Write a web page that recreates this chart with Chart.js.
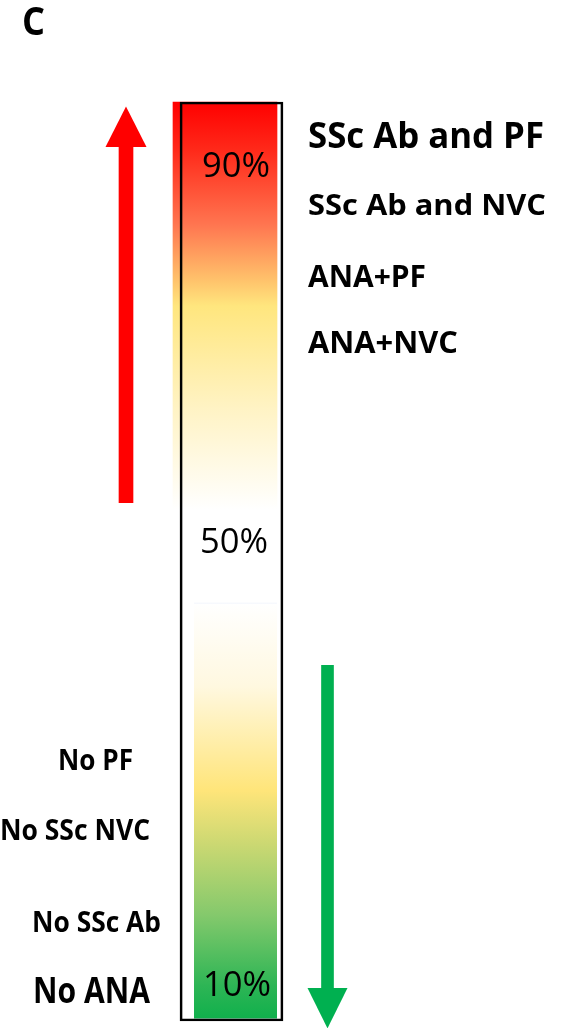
<!DOCTYPE html>
<html>
<head>
<meta charset="utf-8">
<script src="https://cdn.jsdelivr.net/npm/chart.js@4.4.1/dist/chart.umd.min.js"></script>
<style>
  html, body { margin: 0; padding: 0; background: #fff; }
  #wrap { width: 565px; height: 1028px; }
</style>
</head>
<body>
<div id="wrap"><canvas id="risk-bar" width="565" height="1028"></canvas></div>
<script>
// ------------------------------------------------------------
// Risk scale (vertical): 0 = bottom of the bar, 100 = top
// Column positions (horizontal) on a 0..565 layout axis
// ------------------------------------------------------------
const columnNames = ['frame', 'upper', 'lower', 'rise', 'fall'];
const columnX     = [231.5, 225, 235.5, 126, 327.5];
const columnRange = [[0, 100], [55.6, 100], [0.2, 45.5], [56.4, 96], [2.8, 38.7]];

// arrow heads: x, tip, base (risk units)
const headX    = [126, 327.5];
const headTip  = [99.5, -0.8];
const headBase = [95.1, 3.6];

// labels
const riskLabels   = ['90%', '50%', '10%'];
const riskLabelAt  = [91.8, 50.9, 2.7];
const highLabels   = ['SSc Ab and PF', 'SSc Ab and NVC', 'ANA+PF', 'ANA+NVC'];
const highLabelAt  = [95.0, 87.7, 79.9, 72.7];
const lowLabels    = ['No PF', 'No SSc NVC', 'No SSc Ab', 'No ANA'];
const lowLabelAt   = [27.3, 19.7, 9.7, 2.0];
const panelLetter  = 'C';
const panelAt      = 107.3;

// colour stops
const upperStops = [[0, '#ff0000'], [0.12, '#ff2a1a'], [0.3, '#ff7550'], [0.44, '#ffc46c'], [0.5, '#ffe67e'], [0.75, '#fff3c4'], [1, '#ffffff']];
const lowerStops = [[0, '#ffffff'], [0.2, '#fff8e0'], [0.45, '#ffe57a'], [0.58, '#cbd872'], [0.75, '#84c96c'], [0.92, '#2db555'], [1, '#10b04c']];

const FONT = "'Open Sans', 'Liberation Sans', sans-serif";

function bandGradient(stops, range) {
  return (ctx) => {
    const chart = ctx.chart;
    if (!chart.chartArea) return null;
    const y = chart.scales.y;
    const g = chart.ctx.createLinearGradient(0, y.getPixelForValue(range[1]), 0, y.getPixelForValue(range[0]));
    stops.forEach(s => g.addColorStop(s[0], s[1]));
    return g;
  };
}

const styles = {
  frame: { backgroundColor: 'rgba(0,0,0,0)', borderColor: '#000', borderWidth: 2, barThickness: 103 },
  upper: { backgroundColor: bandGradient(upperStops, columnRange[1]), barThickness: 104 },
  lower: { backgroundColor: bandGradient(lowerStops, columnRange[2]), borderColor: '#eef2fb', borderWidth: { top: 1, bottom: 1, left: 0, right: 0 }, barThickness: 83 },
  rise:  { backgroundColor: '#ff0000', barThickness: 14 },
  fall:  { backgroundColor: '#00b050', barThickness: 12 }
};

const datasets = columnNames.map((name, i) => Object.assign({
  label: name,
  data: [{ x: columnX[i], y: columnRange[i] }],
  borderSkipped: false,
  grouped: false,
  clip: false
}, styles[name]));

// arrow heads drawn through the scales
const arrowHeads = {
  id: 'arrowHeads',
  afterDatasetsDraw(chart) {
    const { ctx, scales: { x, y } } = chart;
    const halfW = [20.5, 20];
    const colors = ['#ff0000', '#00b050'];
    ctx.save();
    headX.forEach((hx, i) => {
      const cx = x.getPixelForValue(hx);
      const tip = y.getPixelForValue(headTip[i]);
      const base = y.getPixelForValue(headBase[i]);
      ctx.fillStyle = colors[i];
      ctx.beginPath();
      ctx.moveTo(cx, tip);
      ctx.lineTo(cx + halfW[i], base);
      ctx.lineTo(cx - halfW[i], base);
      ctx.closePath();
      ctx.fill();
    });
    ctx.restore();
  }
};

// text labels, fitted to the width they take in the figure
function fitText(ctx, text, px, py, width) {
  const w = ctx.measureText(text).width;
  ctx.save();
  ctx.translate(px, py);
  ctx.scale(width / w, 1);
  ctx.fillText(text, 0, 0);
  ctx.restore();
}

const textLabels = {
  id: 'textLabels',
  afterDatasetsDraw(chart) {
    const { ctx, scales: { y } } = chart;
    ctx.save();
    ctx.fillStyle = '#000';
    ctx.textAlign = 'left';
    ctx.textBaseline = 'alphabetic';

    // panel letter
    ctx.font = `bold 39px ${FONT}`;
    fitText(ctx, panelLetter, 22, y.getPixelForValue(panelAt), 23);

    // percentages inside the bar
    const riskX = [202, 200, 203];
    ctx.font = `normal 35px ${FONT}`;
    riskLabels.forEach((t, i) => fitText(ctx, t, riskX[i], y.getPixelForValue(riskLabelAt[i]), 68));

    // high risk labels (right)
    const highSize = [35, 29, 30, 30];
    const highW = [236, 238, 118, 150];
    highLabels.forEach((t, i) => {
      ctx.font = `bold ${highSize[i]}px ${FONT}`;
      fitText(ctx, t, 308, y.getPixelForValue(highLabelAt[i]), highW[i]);
    });

    // low risk labels (left)
    const lowSize = [28, 29, 29, 35];
    const lowX = [58, 0, 32, 33];
    const lowW = [75, 150, 129, 117];
    lowLabels.forEach((t, i) => {
      ctx.font = `bold ${lowSize[i]}px ${FONT}`;
      fitText(ctx, t, lowX[i], y.getPixelForValue(lowLabelAt[i]), lowW[i]);
    });
    ctx.restore();
  }
};

new Chart(document.getElementById('risk-bar'), {
  type: 'bar',
  data: { datasets },
  options: {
    responsive: false,
    animation: false,
    devicePixelRatio: 1,
    layout: { padding: { top: 102, bottom: 7, left: 0, right: 0 } },
    plugins: { legend: { display: false }, tooltip: { enabled: false } },
    scales: {
      x: { type: 'linear', min: 0, max: 565, offset: false, display: false },
      y: { type: 'linear', min: 0, max: 100, display: false }
    }
  },
  plugins: [arrowHeads, textLabels]
});
</script>
</body>
</html>
